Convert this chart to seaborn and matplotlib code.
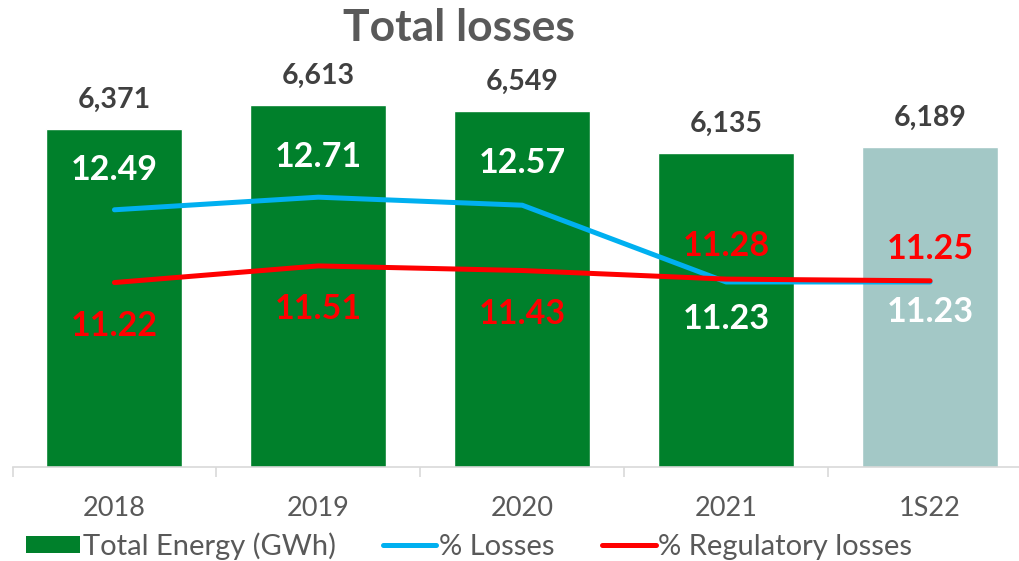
import matplotlib
matplotlib.use('Agg')
import numpy as np
import pandas as pd
import matplotlib.pyplot as plt
import seaborn as sns
from matplotlib.patches import Patch
from matplotlib.lines import Line2D

# ---- data ----
categories = ['2018', '2019', '2020', '2021', '1S22']
total_energy = [6371, 6613, 6549, 6135, 6189]
pct_losses = [12.49, 12.71, 12.57, 11.23, 11.23]
pct_regulatory = [11.22, 11.51, 11.43, 11.28, 11.25]
title = 'Total losses'
legend_labels = ['Total Energy (GWh)', '% Losses', '% Regulatory losses']

# ---- style ----
GREEN = '#00802B'
PALE = '#A3C8C6'
BLUE = '#00B0F0'
RED = '#FF0000'
DARK = '#404040'
GRAY = '#595959'

sns.set_theme(style='white')
plt.rcParams['font.family'] = ['Lato', 'DejaVu Sans']

W, H = 1020, 561
fig = plt.figure(figsize=(W / 100, H / 100), dpi=100)
ax = fig.add_axes([12.5 / W, 94 / H, 1019.5 / W, 401 / H])

df = pd.DataFrame({'cat': categories, 'energy': total_energy})
bar_colors = [GREEN] * (len(categories) - 1) + [PALE]
sns.barplot(data=df, x='cat', y='energy', hue='cat', palette=bar_colors,
            legend=False, width=0.667, saturation=1, ax=ax)
ax.set_xlim(-0.5, len(categories) - 0.5)
ax.set_ylim(3000, 7000)
ax.set_xlabel('')
ax.set_ylabel('')
ax.set_yticks([])
for s in ['top', 'right', 'left']:
    ax.spines[s].set_visible(False)
ax.spines['bottom'].set_color('#D9D9D9')
ax.spines['bottom'].set_linewidth(1.2)
ax.set_xticks(np.arange(len(categories)))
ax.set_xticklabels(categories)
ax.set_xticks(np.arange(len(categories) + 1) - 0.5, minor=True)
ax.tick_params(axis='x', which='major', length=0, pad=21, labelsize=19.5, labelcolor=GRAY)
ax.tick_params(axis='x', which='minor', length=7.2, width=1.2, color='#D9D9D9', bottom=True)

ax2 = ax.twinx()
xs = np.arange(len(categories))
sns.lineplot(x=xs, y=pct_losses, ax=ax2, color=BLUE, linewidth=3.6,
             solid_capstyle='round', zorder=3)
sns.lineplot(x=xs, y=pct_regulatory, ax=ax2, color=RED, linewidth=3.6,
             solid_capstyle='round', zorder=4)
ax2.set_ylim(8, 15)
ax2.set_yticks([])
ax2.set_ylabel('')
for s in ax2.spines.values():
    s.set_visible(False)

# bar value labels
for i, v in enumerate(total_energy):
    ax.annotate(f'{v:,}', (i, v), xytext=(0, 21), textcoords='offset points',
                ha='center', va='center', fontsize=20.5, fontweight='bold', color=DARK)

# percentage labels (offsets in px)
blue_off = [40, 40, 42, -37, -30]
red_off = [-43, -43, -43, 33, 32]
for i, v in enumerate(pct_losses):
    ax2.annotate(f'{v:.2f}', (i, v), xytext=(0, blue_off[i] * 0.72), textcoords='offset points',
                 ha='center', va='center', fontsize=24.5, fontweight='bold', color='white', zorder=6)
for i, v in enumerate(pct_regulatory):
    ax2.annotate(f'{v:.2f}', (i, v), xytext=(0, red_off[i] * 0.72), textcoords='offset points',
                 ha='center', va='center', fontsize=24.5, fontweight='bold', color=RED, zorder=6)

fig.text(459 / W, 1 - 28 / H, title, ha='center', va='center', fontsize=32,
         fontweight='bold', color=GRAY)

handles = [Patch(facecolor=GREEN, edgecolor='none'),
           Line2D([0], [0], color=BLUE, lw=3.6, solid_capstyle='round'),
           Line2D([0], [0], color=RED, lw=3.6, solid_capstyle='round')]
leg = fig.legend(handles, legend_labels, loc='center left',
                 bbox_to_anchor=(26 / W, 1 - 546 / H), ncol=3, frameon=False,
                 fontsize=21, handlelength=1.85, handleheight=0.5,
                 handletextpad=0.1, columnspacing=1.6,
                 borderaxespad=0, borderpad=0)
for t in leg.get_texts():
    t.set_color(GRAY)

fig.savefig('out.png', dpi=100)
